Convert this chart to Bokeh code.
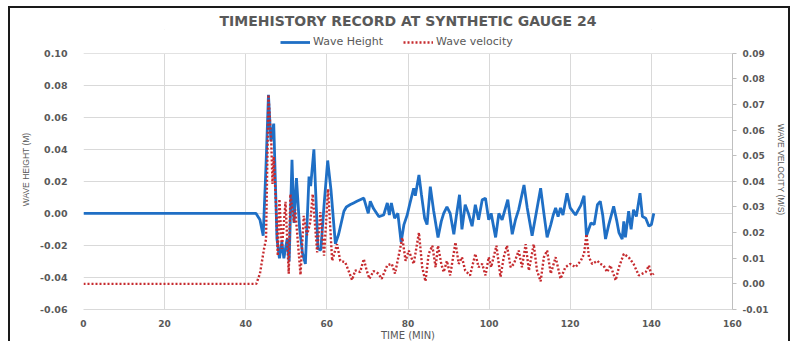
from bokeh.plotting import figure
from bokeh.models import (LinearAxis, Range1d, FixedTicker, NumeralTickFormatter,
                          Legend, LegendItem, BoxAnnotation)
from bokeh.embed import file_html
from bokeh.resources import INLINE

# ---------------- data ----------------
height_time = [0, 42.5, 43.5, 44.3, 45.0, 45.6, 46.2, 46.9, 47.3, 47.7, 48.3, 48.9, 49.4,
               50.2, 50.7, 51.4, 51.9, 52.5, 53.3, 54.0, 54.7, 55.6, 56.0, 56.8, 57.3,
               57.8, 58.5, 59.3, 60.2, 61.0, 62.1, 62.9, 64.2, 64.8, 65.8, 66.6, 67.4,
               68.2, 69.1, 70.2, 70.7, 71.5, 72.8, 74.0, 74.9, 75.4, 75.9, 76.7, 77.5,
               78.3, 79.0, 79.8, 80.4, 81.4, 81.8, 82.7, 83.3, 84.1, 84.7, 85.5, 86.3,
               87.4, 88.2, 88.8, 89.6, 90.4, 91.3, 91.9, 92.7, 93.3, 94.1, 94.9, 95.8,
               96.6, 97.4, 98.3, 99.1, 99.9, 100.5, 101.6, 102.4, 103.2, 104.6, 105.7,
               106.5, 107.3, 108.6, 109.4, 110.6, 111.7, 112.7, 113.5, 114.3, 115.2,
               115.8, 116.4, 117.0, 117.6, 118.2, 119.2, 120.0, 121.3, 122.6, 123.4,
               124.0, 125.1, 125.9, 126.7, 127.4, 128.0, 128.7, 129.5, 130.7, 131.5,
               132.0, 132.8, 133.2, 133.6, 134.4, 135.0, 135.6, 136.3, 137.2, 137.8,
               138.6, 139.4, 140.0, 140.6]
wave_height = [0, 0, -0.004, -0.014, 0.03, 0.074, 0.045, 0.056, 0.02, -0.016, -0.028, -0.018,
               -0.028, -0.016, -0.030, 0.0335, -0.006, 0.022, -0.010, -0.025, -0.0315, 0.023,
               0.017, 0.040, 0.010, -0.022, -0.023, 0.005, 0.033, 0.015, -0.019, -0.013,
               0.0013, 0.004, 0.0055, 0.0065, 0.0075, 0.0085, 0.0095, 0.000, 0.0075, 0.003,
               -0.002, -0.001, 0.0065, -0.001, 0.0065, -0.003, 0.0, -0.018, -0.007, -0.001,
               0.0055, 0.0157, 0.011, 0.024, 0.012, -0.003, -0.007, 0.0167, 0.002, -0.015,
               -0.005, 0.000, 0.004, 0.000, -0.013, -0.002, 0.0116, -0.010, 0.0054, 0.0,
               -0.008, 0.0054, -0.004, 0.0085, 0.0095, -0.004, 0.000, -0.015, 0.0, -0.004,
               0.0085, -0.013, -0.004, 0.0025, 0.0177, 0.0034, -0.014, 0.0015, 0.0157, 0.0,
               -0.015, -0.007, -0.001, 0.0034, -0.002, 0.0034, -0.001, 0.0126, 0.0034,
               -0.001, 0.005, 0.011, -0.014, -0.006, -0.007, 0.0054, 0.0075, -0.001, -0.016,
               -0.007, 0.0044, -0.005, -0.012, -0.016, -0.005, -0.015, 0.0013, -0.010,
               0.0023, -0.002, 0.0126, -0.002, -0.003, -0.008, -0.007, 0.000]

velocity_time = [0, 42.6, 43.5, 44.5, 45.0, 45.6, 46.3, 46.6, 46.9, 47.4, 47.9, 48.3, 48.9,
                 49.8, 50.6, 51.0, 51.9, 52.2, 53.5, 54.3, 55.1, 55.9, 56.5, 57.6, 58.4,
                 59.3, 60.3, 61.3, 62.5, 63.3, 64.5, 65.3, 66.2, 67.0, 68.2, 69.1, 69.8,
                 70.5, 71.5, 72.7, 73.5, 74.9, 76.0, 76.8, 78.2, 78.6, 79.4, 80.2, 81.4,
                 82.7, 83.5, 84.3, 85.1, 86.0, 86.8, 87.4, 88.2, 88.8, 89.6, 90.4, 91.7,
                 92.5, 93.3, 94.1, 95.3, 96.6, 97.4, 98.3, 99.1, 99.9, 100.5, 101.8, 102.8,
                 103.6, 104.4, 105.3, 106.1, 107.3, 108.1, 109.0, 109.8, 111.0, 111.8,
                 112.7, 113.5, 114.3, 115.2, 116.4, 117.6, 118.8, 120.0, 121.3, 122.6,
                 123.4, 124.0, 124.6, 125.4, 126.7, 127.4, 128.2, 129.1, 129.9, 131.2,
                 132.0, 133.2, 134.4, 135.6, 136.9, 137.8, 138.6, 139.4, 140.0, 140.6]
wave_velocity = [0, 0, 0.004, 0.0136, 0.0174, 0.0738, 0.0546, 0.039, 0.0496, 0.0328, 0.011,
                 0.033, 0.0136, 0.032, 0.004, 0.035, 0.024, 0.029, 0.0035, 0.0265, 0.019,
                 0.024, 0.035, 0.0123, 0.028, 0.011, 0.037, 0.009, 0.0155, 0.009, 0.0085,
                 0.0053, 0.0015, 0.0053, 0.0046, 0.0097, 0.0053, 0.002, 0.005, 0.004, 0.002,
                 0.0073, 0.0078, 0.004, 0.0149, 0.018, 0.009, 0.013, 0.0078, 0.020, 0.0065,
                 0.001, 0.0117, 0.0149, 0.0065, 0.0149, 0.0078, 0.0046, 0.009, 0.0033,
                 0.0162, 0.0078, 0.0104, 0.0052, 0.0033, 0.0117, 0.0065, 0.0078, 0.0033,
                 0.0104, 0.0065, 0.0149, 0.0027, 0.0104, 0.0149, 0.0065, 0.0078, 0.013,
                 0.0065, 0.0155, 0.0052, 0.0155, 0.0052, 0.001, 0.0104, 0.013, 0.004,
                 0.0104, 0.002, 0.0065, 0.0078, 0.0065, 0.009, 0.0117, 0.0194, 0.0104,
                 0.0078, 0.009, 0.0078, 0.0072, 0.0046, 0.0072, 0.0014, 0.0065, 0.0117,
                 0.0104, 0.0078, 0.0033, 0.004, 0.0046, 0.0072, 0.0033, 0.004]

x_ticks = [0, 20, 40, 60, 80, 100, 120, 140, 160]
left_ticks = [-0.06, -0.04, -0.02, 0.00, 0.02, 0.04, 0.06, 0.08, 0.10]
right_ticks = [-0.01, 0.00, 0.01, 0.02, 0.03, 0.04, 0.05, 0.06, 0.07, 0.08, 0.09]

# ---------------- layout constants ----------------
TXT = "#595959"
GRID = "#d9d9d9"
PLOT_PX = 260          # pixel height of the gridded area
HEADROOM_PX = 24       # extra frame above the grid that holds the legend
ext = HEADROOM_PX / PLOT_PX
l0, l1 = left_ticks[0], left_ticks[-1]
r0, r1 = right_ticks[0], right_ticks[-1]

p = figure(width=782, height=335,
           x_range=Range1d(x_ticks[0], x_ticks[-1]),
           y_range=Range1d(l0, l1 + (l1 - l0) * ext),
           output_backend="svg", toolbar_location=None,
           min_border_left=73, min_border_right=60, min_border_top=21, min_border_bottom=30)
p.styles = {"margin": "6px 0 0 8px",
            "border-top": "2px solid #1a1a1a", "border-left": "2px solid #1a1a1a",
            "border-right": "2px solid #1a1a1a"}
p.extra_y_ranges = {"vel": Range1d(r0, r1 + (r1 - r0) * ext)}
p.outline_line_color = None
p.background_fill_color = "white"

p.title.text = "TIMEHISTORY RECORD AT SYNTHETIC GAUGE 24"
p.title.align = "center"
p.title.text_font = "DejaVu Sans"
p.title.text_font_size = "14px"
p.title.text_font_style = "bold"
p.title.text_color = TXT
p.title.standoff = 2

rh = p.line(height_time, wave_height, line_color="#1f6fc5", line_width=2.8)
rv = p.line(velocity_time, wave_velocity, y_range_name="vel", line_color="#c62b2f",
            line_width=2.4, line_dash="2 2")

# axes
xa = p.xaxis[0]
xa.ticker = FixedTicker(ticks=x_ticks)
xa.axis_label = "TIME (MIN)"
xa.axis_line_color = GRID
xa.major_tick_line_color = None
xa.minor_tick_line_color = None
xa.major_label_standoff = 4
xa.axis_label_standoff = 0
xa.major_label_text_font = "DejaVu Sans"
xa.major_label_text_font_size = "9px"
xa.major_label_text_font_style = "bold"
xa.major_label_text_color = TXT
xa.axis_label_text_font = "DejaVu Sans"
xa.axis_label_text_font_size = "10px"
xa.axis_label_text_font_style = "normal"
xa.axis_label_text_color = TXT

ya = p.yaxis[0]
ya.ticker = FixedTicker(ticks=left_ticks)
ya.formatter = NumeralTickFormatter(format="0.00")
ya.axis_label = "WAVE HEIGHT (M)"
ya.axis_line_color = None
ya.major_tick_line_color = None
ya.minor_tick_line_color = None
ya.major_label_standoff = 10
ya.axis_label_standoff = 6
ya.major_label_text_font = "DejaVu Sans"
ya.major_label_text_font_size = "9.5px"
ya.major_label_text_font_style = "bold"
ya.major_label_text_color = TXT
ya.axis_label_text_font = "Liberation Sans"
ya.axis_label_text_font_size = "8.5px"
ya.axis_label_text_font_style = "normal"
ya.axis_label_text_color = TXT

ra = LinearAxis(y_range_name="vel", ticker=FixedTicker(ticks=right_ticks),
                formatter=NumeralTickFormatter(format="0.00"),
                axis_label="WAVE VELOCITY (M/S)", bounds=(r0, r1))
ra.axis_line_color = "#bfbfbf"
ra.major_tick_line_color = "#bfbfbf"
ra.major_tick_in = 0
ra.major_tick_out = 4
ra.minor_tick_line_color = None
ra.major_label_standoff = 6
ra.axis_label_standoff = 5
ra.major_label_text_font = "DejaVu Sans"
ra.major_label_text_font_size = "9px"
ra.major_label_text_font_style = "bold"
ra.major_label_text_color = TXT
ra.axis_label_text_font = "Liberation Sans"
ra.axis_label_text_font_size = "8.5px"
ra.axis_label_text_font_style = "normal"
ra.axis_label_text_color = TXT
p.add_layout(ra, "right")

p.xgrid.ticker = FixedTicker(ticks=x_ticks)
p.ygrid.ticker = FixedTicker(ticks=left_ticks)
p.xgrid.grid_line_color = GRID
p.ygrid.grid_line_color = GRID

# blank strip above the grid (holds the legend, hides grid lines there)
p.add_layout(BoxAnnotation(bottom=l1, fill_color="white", fill_alpha=1.0,
                           line_color=None, level="underlay"), "center")

legend = Legend(items=[LegendItem(label="Wave Height", renderers=[rh]),
                       LegendItem(label="Wave velocity", renderers=[rv])],
                orientation="horizontal", location=(197, PLOT_PX + 1),
                border_line_color=None, background_fill_alpha=0,
                label_text_font="DejaVu Sans", label_text_font_size="11px",
                label_text_color=TXT, glyph_width=30, glyph_height=12,
                label_height=12, padding=0, margin=0, spacing=20, label_standoff=3)
p.add_layout(legend, "center")

open("out.html", "w").write(file_html(p, INLINE))
